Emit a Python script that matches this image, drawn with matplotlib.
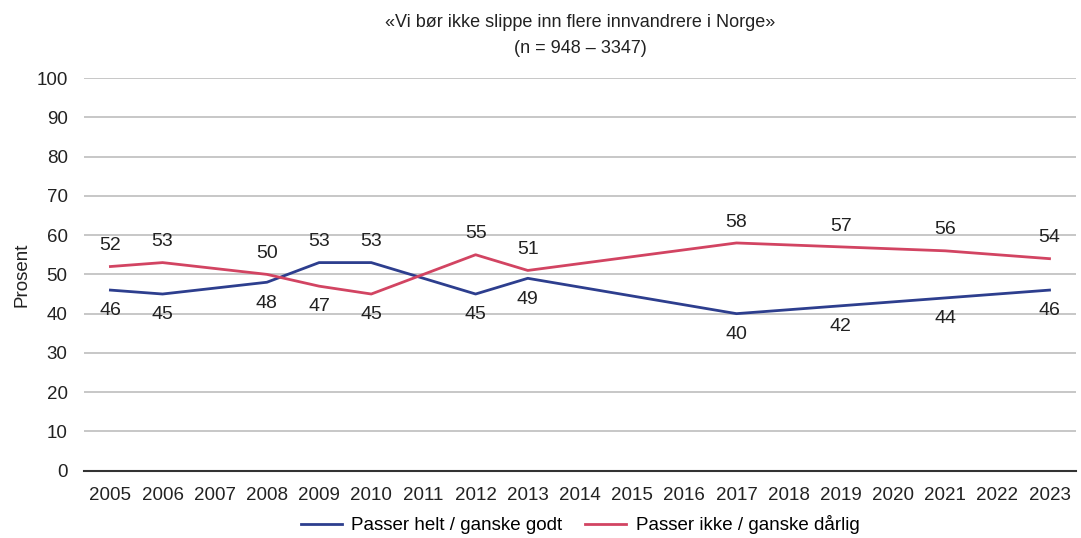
import numpy as np
import matplotlib.pyplot as plt

# data to plot
years = list(range(2005, 2024))
survey_years = [2005, 2006, 2008, 2009, 2010, 2012, 2013, 2017, 2019, 2021, 2023]
passer_godt = [46, 45, 48, 53, 53, 45, 49, 40, 42, 44, 46]
passer_darlig = [52, 53, 50, 47, 45, 55, 51, 58, 57, 56, 54]
# label placement: +1 above the line, -1 below
godt_side = [-1, -1, -1, 1, 1, -1, -1, -1, -1, -1, -1]
darlig_side = [1, 1, 1, -1, -1, 1, 1, 1, 1, 1, 1]

title = "«Vi bør ikke slippe inn flere innvandrere i Norge»\n(n = 948 – 3347)"
label_godt = "Passer helt / ganske godt"
label_darlig = "Passer ikke / ganske dårlig"


def main():
    plt.rcParams['font.family'] = ['Liberation Sans', 'DejaVu Sans']

    fig, ax = plt.subplots(figsize=(10.81, 5.38), dpi=100)
    fig.subplots_adjust(left=0.078, right=0.995, top=0.855, bottom=0.125)

    idx = [years.index(y) for y in survey_years]
    blue = '#2D3E8E'
    red = '#D24462'

    ax.plot(idx, passer_godt, color=blue, lw=2, label=label_godt)
    ax.plot(idx, passer_darlig, color=red, lw=2, label=label_darlig)

    for xs, vals, sides in ((idx, passer_godt, godt_side),
                            (idx, passer_darlig, darlig_side)):
        for x, v, s in zip(xs, vals, sides):
            ax.annotate(str(v), (x, v), xytext=(0, 15 * s),
                        textcoords='offset points', ha='center',
                        va='center', fontsize=14, color='#222222')

    ax.set_xlim(-0.5, len(years) - 0.5)
    ax.set_ylim(0, 100)
    ax.set_yticks(np.arange(0, 101, 10))
    ax.set_xticks(range(len(years)))
    ax.set_xticklabels([str(y) for y in years])
    ax.tick_params(axis='both', length=0, labelsize=13.5, colors='#222222')
    ax.tick_params(axis='y', pad=12)
    ax.tick_params(axis='x', pad=12)
    ax.grid(axis='y', color='#bdbdbd', lw=1.2)
    ax.set_axisbelow(True)
    for side in ('top', 'right', 'left'):
        ax.spines[side].set_visible(False)
    ax.spines['bottom'].set_color('#333333')
    ax.spines['bottom'].set_linewidth(1.5)

    ax.set_ylabel('Prosent', fontsize=13.5, color='#222222', labelpad=4)
    ax.set_title(title, fontsize=13, color='#222222', pad=18, linespacing=1.7)

    ax.legend(loc='upper center', bbox_to_anchor=(0.5, -0.085), ncol=2,
              frameon=False, fontsize=13.5, handlelength=2.2,
              columnspacing=1.2, handletextpad=0.5, borderaxespad=0.2)

    plt.savefig('out.png')


if __name__ == '__main__':
    main()
